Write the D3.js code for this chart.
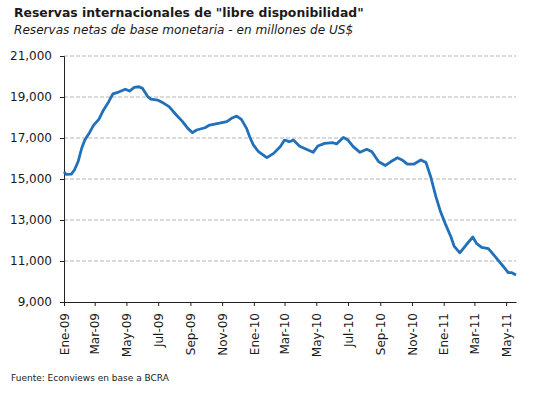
<!DOCTYPE html>
<html>
<head>
<meta charset="utf-8">
<script src="https://cdn.jsdelivr.net/npm/d3@7"></script>
<style>
  body { margin: 0; background: #fff; }
  text { font-family: "DejaVu Sans", sans-serif; fill: #1a1a1a; }
</style>
</head>
<body>
<div id="chart"></div>
<script>
// fechas (aprox. semanales) y reservas en millones de US$
var fechas = [
  "2009-01-01","2009-01-05","2009-01-15","2009-01-21","2009-01-28","2009-02-04","2009-02-10","2009-02-19",
  "2009-02-27","2009-03-09","2009-03-18","2009-03-28","2009-04-05","2009-04-16","2009-04-29","2009-05-07",
  "2009-05-16","2009-05-25","2009-06-01","2009-06-11","2009-06-17","2009-06-30","2009-07-12","2009-07-22",
  "2009-08-05","2009-08-17","2009-08-27","2009-09-05","2009-09-13","2009-09-29","2009-10-08","2009-10-27",
  "2009-11-10","2009-11-19","2009-11-29","2009-12-08","2009-12-18","2009-12-24","2009-12-31","2010-01-10",
  "2010-01-26","2010-02-08","2010-02-21","2010-03-01","2010-03-10","2010-03-18","2010-03-30","2010-04-12",
  "2010-04-25","2010-05-04","2010-05-17","2010-06-02","2010-06-09","2010-06-22","2010-07-01","2010-07-11",
  "2010-07-24","2010-08-06","2010-08-16","2010-08-29","2010-09-11","2010-09-21","2010-10-04","2010-10-13",
  "2010-10-23","2010-11-05","2010-11-18","2010-11-28","2010-12-07","2010-12-17","2010-12-26","2011-01-05",
  "2011-01-15","2011-01-21","2011-02-01","2011-02-13","2011-02-26","2011-03-05","2011-03-15","2011-03-28",
  "2011-04-10","2011-04-26","2011-05-05","2011-05-12","2011-05-20"
];
var reservas = [
  15350,15230,15240,15440,15840,16500,16900,17260,
  17630,17910,18370,18770,19150,19240,19380,19290,
  19470,19500,19420,19020,18900,18850,18690,18530,
  18120,17800,17470,17260,17390,17500,17630,17720,
  17800,17960,18070,17910,17470,17060,16660,16330,
  16040,16250,16580,16900,16820,16900,16600,16450,
  16300,16610,16740,16770,16710,17030,16900,16580,
  16300,16450,16330,15840,15660,15840,16040,15930,
  15730,15730,15930,15800,15110,14140,13400,12760,
  12170,11730,11400,11780,12170,11860,11660,11600,
  11210,10720,10430,10430,10320
];
var tickLabels = ["Ene-09","Mar-09","May-09","Jul-09","Sep-09","Nov-09","Ene-10","Mar-10",
  "May-10","Jul-10","Sep-10","Nov-10","Ene-11","Mar-11","May-11"];
var yTicks = [9000, 11000, 13000, 15000, 17000, 19000, 21000];

var W = 533, H = 399;
var plotLeft = 64, plotRight = 516, plotTop = 56, plotBottom = 302;

var parse = d3.timeParse("%Y-%m-%d");
var data = fechas.map(function (f, i) { return { date: parse(f), value: reservas[i] }; });

var svg = d3.select("#chart").append("svg")
    .attr("width", W)
    .attr("height", H);

var x = d3.scaleTime()
    .domain(d3.extent(data, function (d) { return d.date; }))
    .range([plotLeft, plotRight]);

var y = d3.scaleLinear()
    .domain([9000, 21000])
    .range([plotBottom, plotTop]);

// titulo
svg.append("text")
    .attr("x", 14).attr("y", 17)
    .style("font-size", "12.4px").style("font-weight", "bold")
    .text("Reservas internacionales de \"libre disponibilidad\"");

svg.append("text")
    .attr("x", 14).attr("y", 34)
    .style("font-size", "12.1px").style("font-style", "italic")
    .text("Reservas netas de base monetaria - en millones de US$");

// grilla
svg.append("g")
    .selectAll("line")
    .data(yTicks.slice(1))
    .enter().append("line")
    .attr("x1", plotLeft).attr("x2", plotRight)
    .attr("y1", function (d) { return y(d); })
    .attr("y2", function (d) { return y(d); })
    .attr("stroke", "#b5b5b5")
    .attr("stroke-dasharray", "4,2");

// eje y
var yAxis = svg.append("g")
    .attr("transform", "translate(" + plotLeft + ",0)")
    .call(d3.axisLeft(y).tickValues(yTicks).tickFormat(d3.format(",")).tickSize(4).tickPadding(8));
yAxis.select(".domain").attr("stroke", "#222");
yAxis.selectAll(".tick line").attr("stroke", "#222");
yAxis.selectAll("text").style("font-size", "12px").attr("fill", "#1a1a1a");

// eje x
var tickDates = d3.timeMonth.every(2).range(new Date(2009, 0, 1), new Date(2011, 5, 1));
var xAxis = svg.append("g")
    .attr("transform", "translate(0," + plotBottom + ")")
    .call(d3.axisBottom(x).tickValues(tickDates)
        .tickFormat(function (d, i) { return tickLabels[i]; })
        .tickSize(4).tickSizeOuter(0));
xAxis.select(".domain").attr("stroke", "#222");
xAxis.selectAll(".tick line").attr("stroke", "#222");
xAxis.selectAll("text")
    .style("font-size", "12px")
    .attr("fill", "#1a1a1a")
    .attr("text-anchor", "end")
    .attr("transform", "rotate(-90)")
    .attr("x", -11)
    .attr("y", 0)
    .attr("dy", "0.35em");

// linea
var line = d3.line()
    .x(function (d) { return x(d.date); })
    .y(function (d) { return y(d.value); });

svg.append("path")
    .datum(data)
    .attr("fill", "none")
    .attr("stroke", "#2170b8")
    .attr("stroke-width", 2.8)
    .attr("stroke-linejoin", "round")
    .attr("d", line);

// fuente
svg.append("text")
    .attr("x", 11).attr("y", 381)
    .style("font-size", "9px")
    .text("Fuente: Econviews en base a BCRA");
</script>
</body>
</html>
